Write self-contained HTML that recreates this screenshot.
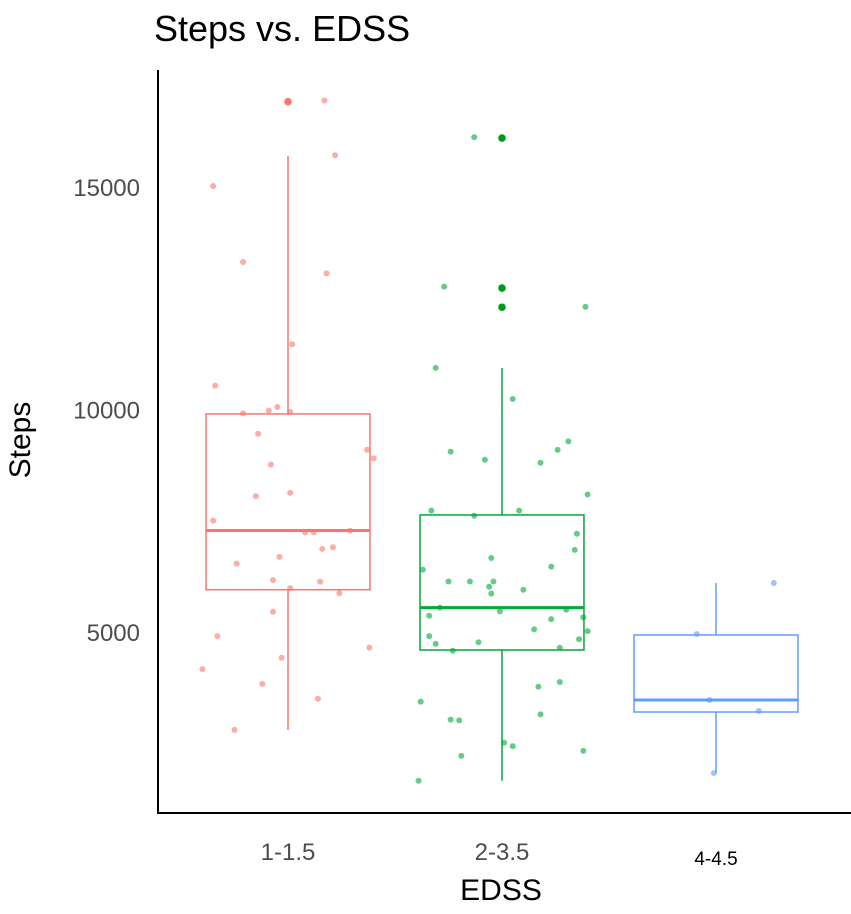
<!DOCTYPE html>
<html><head><meta charset="utf-8"><style>
body{margin:0;background:#fff;}
svg{display:block;font-family:"Liberation Sans",Arial,sans-serif;}
</style></head><body>
<svg id="chart" width="851" height="914" viewBox="0 0 851 914">
<text x="154" y="41" font-size="36" fill="#000">Steps vs. EDSS</text>
<g id="plot"></g>
<line x1="158" y1="70" x2="158" y2="814" stroke="#000" stroke-width="2"/>
<line x1="157" y1="813" x2="851" y2="813" stroke="#000" stroke-width="2"/>
<text transform="translate(30,440) rotate(-90)" text-anchor="middle" font-size="30" fill="#000">Steps</text>
<text x="501" y="900" text-anchor="middle" font-size="30" fill="#000">EDSS</text>
</svg>
<script>
const categories = ["1-1.5","2-3.5","4-4.5"];
const colors = ["#F8766D","#00A93A","#619CFF"];
const yTicks = [5000,10000,15000];
const boxLow = [2800,1658,1830];
const boxQ1 = [5950,4596,3202];
const boxMedian = [7280,5548,3472];
const boxQ3 = [9900,7630,4933];
const boxHigh = [15700,10934,6100];
const outlierGroup = [0,1,1,1];
const outlierValue = [16918,16100,12730,12298];
const g1Values = [16945,15713,15022,13314,13058,11467,10537,9912,9977,10056,9948,9456,9096,8905,8764,8054,8128,7503,7238,7238,7276,6867,6905,6687,6537,6166,6128,5986,5872,5454,4906,4650,4422,4166,3834,3501,2800];
const g1Jitter = [0.17,0.22,-0.35,-0.21,0.18,0.02,-0.34,-0.21,-0.09,-0.05,0.01,-0.14,0.37,0.40,-0.08,-0.15,0.01,-0.35,0.08,0.12,0.29,0.16,0.21,-0.04,-0.24,-0.07,0.15,0.01,0.24,-0.07,-0.33,0.38,-0.03,-0.40,-0.12,0.14,-0.25];
const g2Values = [16120,12760,12307,10934,10235,9054,8872,8804,9092,9283,8091,7727,7727,7613,7208,6845,6663,6402,6469,6135,6135,6135,6018,5865,5950,5548,5463,5501,5366,5290,5328,5058,5020,4906,4733,4771,4838,4645,4578,3771,3876,3436,3032,3014,3148,2515,2436,2216,2330,1658];
const g2Jitter = [-0.13,-0.27,0.39,-0.31,0.05,-0.24,-0.08,0.18,0.26,0.31,0.40,-0.33,0.08,-0.13,0.35,0.34,-0.05,-0.37,0.23,-0.25,-0.15,-0.04,-0.06,-0.05,0.10,-0.29,-0.01,0.30,-0.34,0.23,0.38,0.15,0.40,-0.34,-0.31,-0.11,0.36,0.27,-0.23,0.17,0.27,-0.38,-0.24,-0.20,0.18,0.01,0.05,-0.19,0.38,-0.39];
const g3Values = [6100,4955,3472,3225,1830];
const g3Jitter = [0.27,-0.09,-0.03,0.20,-0.01];

const NS="http://www.w3.org/2000/svg";
const svg=document.getElementById('chart');
const plot=document.getElementById('plot');
function yScale(v){return 632-(v-5000)*0.0445;}
function xScale(i){return 288+i*214;}
const BW=214*0.766;
function mk(tag,attrs,parent){const e=document.createElementNS(NS,tag);for(const k in attrs)e.setAttribute(k,attrs[k]);(parent||plot).appendChild(e);return e;}

yTicks.forEach(t=>{
  const lb=mk('text',{x:140,y:yScale(t)+9,'text-anchor':'end','font-size':24,fill:'#4d4d4d'},svg);
  lb.textContent=t;
  
  
});
categories.forEach((c,i)=>{
  const lb=mk('text',{x:xScale(i),y:i==2?865:860,'text-anchor':'middle','font-size':i==2?19:24,fill:i==2?'#000':'#4d4d4d'},svg);
  lb.textContent=c;
  
  
});
categories.forEach((c,i)=>{
  const cx=xScale(i),col=colors[i];
  const g=mk('g',{});
  
  
  mk('line',{x1:cx,x2:cx,y1:yScale(boxHigh[i]),y2:yScale(boxQ3[i]),stroke:col,'stroke-width':1.5},g);
  mk('line',{x1:cx,x2:cx,y1:yScale(boxQ1[i]),y2:yScale(boxLow[i]),stroke:col,'stroke-width':1.5},g);
  mk('rect',{x:cx-BW/2,y:yScale(boxQ3[i]),width:BW,height:yScale(boxQ1[i])-yScale(boxQ3[i]),fill:'none',stroke:col,'stroke-width':1.5},g);
  mk('line',{x1:cx-BW/2,x2:cx+BW/2,y1:yScale(boxMedian[i]),y2:yScale(boxMedian[i]),stroke:col,'stroke-width':3},g);
});
outlierValue.forEach((v,k)=>{
  const i=outlierGroup[k];
  const o=mk('circle',{cx:xScale(i),cy:yScale(v),r:3.8,fill:i==0?'#F8766D':'#009A1A'});
  
  
});
[[g1Values,g1Jitter],[g2Values,g2Jitter],[g3Values,g3Jitter]].forEach((pair,i)=>{
  pair[0].forEach((v,k)=>{
    const p=mk('circle',{cx:xScale(i)+pair[1][k]*214,cy:yScale(v),r:3,fill:colors[i],'fill-opacity':0.6});
    
    
  });
});
</script>
</body></html>
